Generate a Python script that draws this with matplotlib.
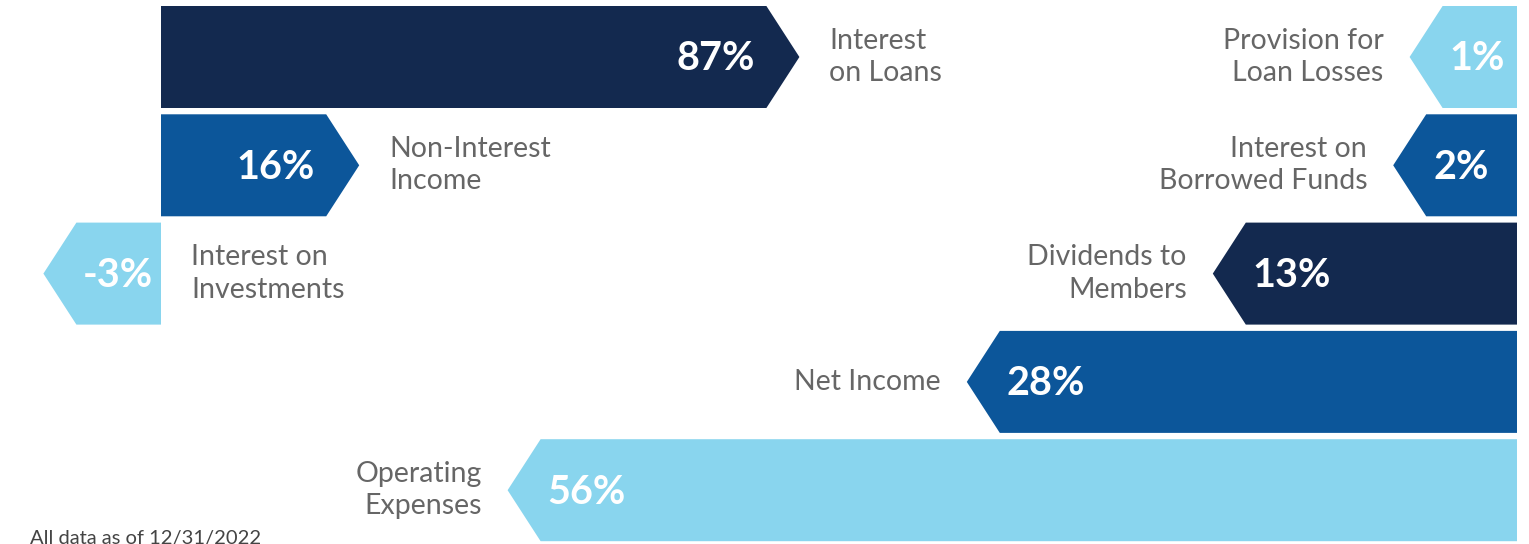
import matplotlib
matplotlib.use("Agg")
import matplotlib.pyplot as plt
from matplotlib.patches import Polygon

# Income side (arrows point right, start at common baseline)
income_labels = ["Interest\non Loans", "Non-Interest\nIncome", "Interest on\nInvestments"]
income_values = [87, 16, -3]

# Expense side (arrows point left, end at common right edge)
expense_labels = ["Provision for\nLoan Losses", "Interest on\nBorrowed Funds",
                  "Dividends to\nMembers", "Net Income", "Operating\nExpenses"]
expense_values = [1, 2, 13, 28, 56]

footnote = "All data as of 12/31/2022"

navy = "#13294f"
blue = "#0c569a"
sky = "#89d5ee"
income_colors = [navy, blue, sky]
expense_colors = [sky, blue, navy, blue, sky]
grey = "#666666"

W, H = 1529, 544
fig = plt.figure(figsize=(W / 100, H / 100), dpi=100)
ax = fig.add_axes([0, 0, 1, 1])
ax.set_xlim(0, W)
ax.set_ylim(H, 0)
ax.axis("off")

# layout (pixel-like units)
left_base = 161
right_base = 1517
row0, row_step, bar_h = 57, 108.3, 102
tip = 33
# bar length = pad + scale * |value|  (pad leaves room for the label)
inc_pad, inc_scale = 66, 6.2
exp_pad, exp_scale = 58, 16.4

val_font = dict(family="Lato", fontweight="bold", fontsize=28.5, color="white")
lab_font = dict(family="Lato", fontweight="normal", fontsize=20.5, color=grey,
                linespacing=1.3)


def arrow(x_base, length, direction, yc, color):
    # direction +1 -> points right, -1 -> points left
    x_end = x_base + direction * length
    top, bot = yc - bar_h / 2, yc + bar_h / 2
    pts = [(x_base, top), (x_end, top), (x_end + direction * tip, yc),
           (x_end, bot), (x_base, bot)]
    ax.add_patch(Polygon(pts, closed=True, facecolor=color, edgecolor="none"))
    return x_end


for i, (lab, v, c) in enumerate(zip(income_labels, income_values, income_colors)):
    yc = row0 + i * row_step
    length = inc_pad + inc_scale * abs(v)
    if v >= 0:
        x_end = arrow(left_base, length, 1, yc, c)
        ax.text(x_end - 12, yc + 2, f"{v}%", ha="right", va="center", **val_font)
        ax.text(x_end + tip + 30, yc, lab, ha="left", va="center", **lab_font)
    else:
        x_end = arrow(left_base, length, -1, yc, c)
        ax.text(x_end + 6, yc + 2, f"{v}%", ha="left", va="center", **val_font)
        ax.text(left_base + 30, yc, lab, ha="left", va="center", **lab_font)

for i, (lab, v, c) in enumerate(zip(expense_labels, expense_values, expense_colors)):
    yc = row0 + i * row_step
    length = exp_pad + exp_scale * v
    x_end = arrow(right_base, length, -1, yc, c)
    ax.text(x_end + 7, yc + 2, f"{v}%", ha="left", va="center", **val_font)
    ax.text(x_end - tip - 26, yc, lab, ha="right", va="center", **lab_font)

ax.text(30, 530, footnote, ha="left", va="top", family="Lato", fontsize=14.5,
        color="#444444")

fig.savefig("out.png", dpi=100)
